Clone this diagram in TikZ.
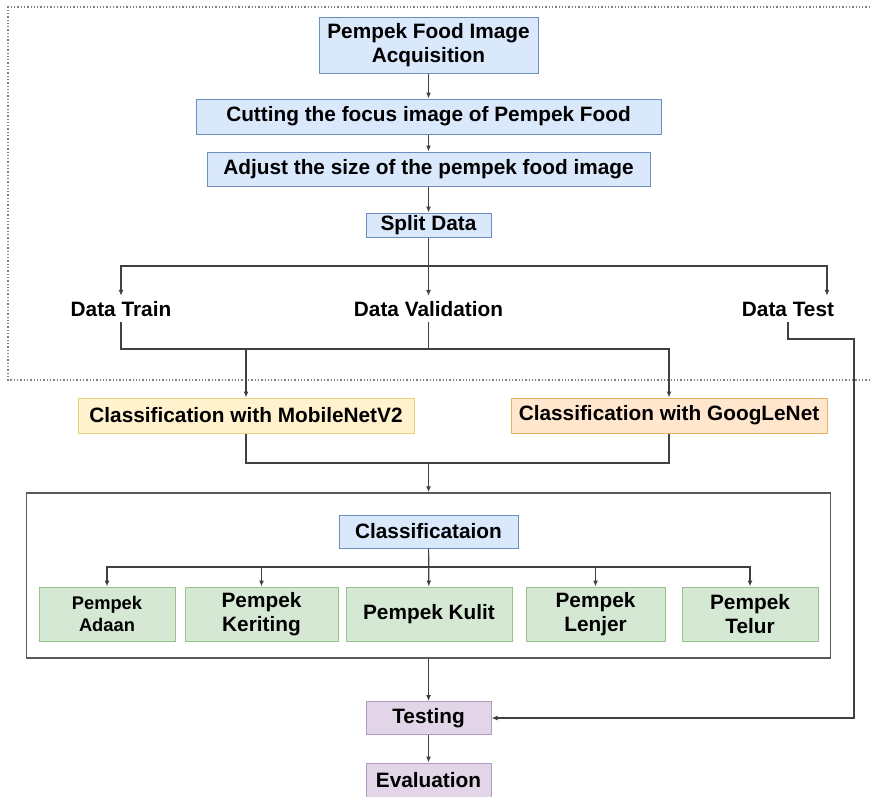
\documentclass[tikz,border=0pt]{standalone}
\usepackage{fontspec}
\setmainfont{Liberation Sans}
\usetikzlibrary{arrows.meta}

\definecolor{bluefill}{HTML}{DAE8FC}
\definecolor{blueline}{HTML}{6C8EBF}
\definecolor{yelfill}{HTML}{FFF2CC}
\definecolor{yelline}{HTML}{E6CF7F}
\definecolor{orafill}{HTML}{FFE6CC}
\definecolor{oraline}{HTML}{E8B25A}
\definecolor{grnfill}{HTML}{D5E8D4}
\definecolor{grnline}{HTML}{97C38A}
\definecolor{purfill}{HTML}{E1D5E7}
\definecolor{purline}{HTML}{B39AC2}

\begin{document}
\begin{tikzpicture}[
  x=1pt, y=-1pt,
  every node/.style={align=center, inner sep=0pt,
                     font=\fontsize{20.8}{23.5}\selectfont\bfseries},
  procbox/.style={draw, line width=1pt},
  bluebox/.style={procbox, draw=blueline, fill=bluefill},
  yelbox/.style={procbox, draw=yelline, fill=yelfill},
  orabox/.style={procbox, draw=oraline, fill=orafill},
  grnbox/.style={procbox, draw=grnline, fill=grnfill,
                 minimum height=54pt, font=\fontsize{20.8}{24}\selectfont\bfseries},
  purbox/.style={procbox, draw=purline, fill=purfill,
                 minimum width=125pt},
  lbl/.style={minimum height=26pt},
  conn/.style={line width=1.2pt, draw=black!75},
  arr/.style={conn, -{Latex[length=6pt,width=5pt]}}
]
\useasboundingbox (0,0) rectangle (870,796);

% dotted data preparation area
\draw[gray, dotted, line width=1.3pt] (870,7) -| (8,380) -- (870,380);

% preparation steps
\node[bluebox, minimum width=219pt, minimum height=56pt] (acq) at (428.5,45)
  {Pempek Food Image\\Acquisition};
\node[bluebox, minimum width=465pt, minimum height=35pt] (cut) at (428.5,116.5)
  {Cutting the focus image of Pempek Food};
\node[bluebox, minimum width=443pt, minimum height=34pt] (adj) at (428.5,169)
  {Adjust the size of the pempek food image};
\node[bluebox, minimum width=125pt, minimum height=24pt] (split) at (428.5,225)
  {Split Data};

\node[lbl] (train) at (121,309) {Data Train};
\node[lbl] (valid) at (428.5,309) {Data Validation};
\node[lbl] (test) at (788,309) {Data Test};

% models
\node[yelbox, minimum width=336pt, minimum height=35pt] (mob) at (246,415.5)
  {Classification with MobileNetV2};
\node[orabox, minimum width=316pt, minimum height=35pt] (goog) at (669,415.5)
  {Classification with GoogLeNet};

% classification block
\node[draw=black!65, line width=1.5pt, minimum width=804pt, minimum height=165pt]
  (frame) at (428.5,575.5) {};
\node[bluebox, minimum width=179pt, minimum height=33pt] (cls) at (428.5,531.5)
  {Classificataion};
\node[grnbox, minimum width=136pt, font=\fontsize{18.3}{22}\selectfont\bfseries]
  (adaan) at (107,614) {Pempek\\Adaan};
\node[grnbox, minimum width=153pt] (keriting) at (261.5,614) {Pempek\\Keriting};
\node[grnbox, minimum width=166pt] (kulit) at (429,614) {Pempek Kulit};
\node[grnbox, minimum width=139pt] (lenjer) at (595.5,614) {Pempek\\Lenjer};
\node[grnbox, minimum width=136pt] (telur) at (750,614) {Pempek\\Telur};

\node[purbox, minimum height=33pt] (testing) at (428.5,718) {Testing};
\node[purbox, minimum height=34pt] (eval) at (428.5,780) {Evaluation};

\coordinate (sj) at (428.5,266);
\coordinate (vj) at (428.5,349);
\coordinate (mj) at (428.5,463);
\coordinate (cj) at (428.5,567);

\draw[arr] (acq) -- (cut);
\draw[arr] (cut) -- (adj);
\draw[arr] (adj) -- (split);
\draw[arr] (split) -- (valid);
\draw[arr] (sj) -| (train);
\draw[arr] (sj) -| ([xshift=39pt]test.north);

\draw[arr] (train) |- (vj) -| (goog);
\draw[conn] (valid) -- (vj);
\draw[arr] (mob.north |- vj) -- (mob);

\draw[conn] (mob) |- (mj) -| (goog);
\draw[arr] (mj) -- (frame);

\draw[arr] (cls) -- (kulit);
\foreach \n in {adaan, keriting, lenjer, telur}
  \draw[arr] (cj) -| (\n.north);

\draw[arr] (frame) -- (testing);
\draw[arr] (testing) -- (eval);
\draw[arr] (test.south) |- (854,339) |- (testing.east);
\end{tikzpicture}
\end{document}
